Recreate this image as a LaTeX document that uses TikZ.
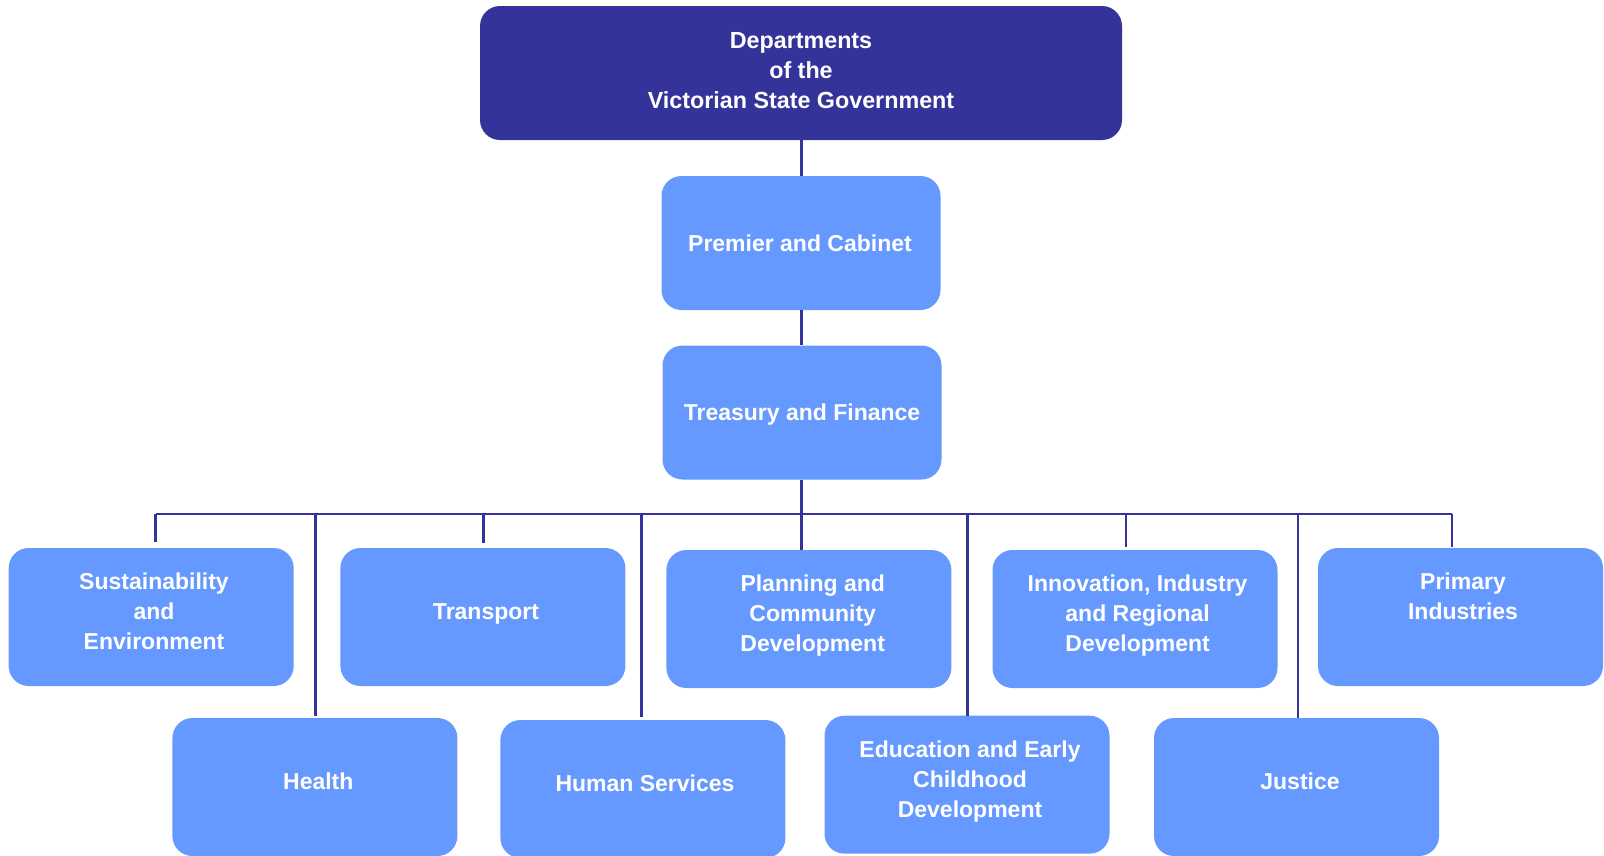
\documentclass[tikz,border=0pt]{standalone}
\usepackage{fontspec}
\setmainfont{Liberation Sans}
\definecolor{deptblue}{HTML}{333399}
\definecolor{unitblue}{HTML}{6699FF}
\begin{document}
\begin{tikzpicture}[x=1pt,y=-1pt,
  box/.style={draw=none, fill=unitblue, rounded corners=20pt, minimum width=285pt, minimum height=138pt, inner sep=0pt},
  topbox/.style={draw=none, fill=deptblue, rounded corners=20pt, minimum width=642pt, minimum height=134pt, inner sep=0pt},
  midbox/.style={box, minimum width=279pt, minimum height=134pt},
  lbl/.style={text=white, font=\fontsize{23}{30}\selectfont\bfseries, align=center, inner sep=0pt},
  link/.style={draw=deptblue, line width=2.5pt}
]
\useasboundingbox (0,0) rectangle (1604,855);

% boxes
\node[topbox] (top) at (801,73) {};
\node[midbox] (pc)  at (801,243) {};
\node[midbox] (tf)  at (802,412.5) {};

\node[box] (sus) at (151.2,617) {};
\node[box] (tra) at (482.9,617) {};
\node[box] (pla) at (808.9,619) {};
\node[box] (inn) at (1135,619) {};
\node[box] (pri) at (1460.5,617) {};

\node[box] (hea) at (314.9,787) {};
\node[box] (hum) at (642.9,789) {};
\node[box] (edu) at (967,784.7) {};
\node[box] (jus) at (1296.5,787) {};

% labels
\node[lbl, font=\fontsize{23.3}{29.6}\selectfont\bfseries] (top-t) at (801,70.6) {Departments\\of the\\Victorian State Government};
\node[lbl] (pc-t)  at (800,243.5) {Premier and Cabinet};
\node[lbl] (tf-t)  at (802,415) {Treasury and Finance};
\node[lbl] (sus-t) at (154,611.7) {Sustainability\\and\\Environment};
\node[lbl] (tra-t) at (486,613.7) {Transport};
\node[lbl] (pla-t) at (812.7,615.7) {Planning and\\Community\\Development};
\node[lbl] (inn-t) at (1137.6,615.7) {Innovation, Industry\\and Regional\\Development};
\node[lbl] (pri-t) at (1463,596.7) {Primary\\Industries};
\node[lbl] (hea-t) at (318.3,781.7) {Health};
\node[lbl] (hum-t) at (645,783.3) {Human Services};
\node[lbl] (edu-t) at (970,781.3) {Education and Early\\Childhood\\Development};
\node[lbl] (jus-t) at (1300,781.7) {Justice};

% bus coordinates
\coordinate (b-sus) at (155.7,514);
\coordinate (b-hea) at (315.7,514);
\coordinate (b-tra) at (483.7,514);
\coordinate (b-hum) at (641.7,514);
\coordinate (b-mid) at (801.7,514);
\coordinate (b-edu) at (967.7,514);
\coordinate (b-inn) at (1126,514);
\coordinate (b-jus) at (1298,514);
\coordinate (b-pri) at (1452,514);

% connectors
\draw[link] (top.south -| b-mid) -- (pc.north -| b-mid);
\draw[link] (pc.south -| b-mid) -- (tf.north -| b-mid);
\draw[link] (tf.south -| b-mid) -- (b-mid);
\draw[link] (b-sus) -- (b-pri);

\draw[link, shorten >=6pt] (b-sus) -- (b-sus |- sus.north);
\draw[link, shorten >=5pt] (b-tra) -- (b-tra |- tra.north);
\draw[link] (b-mid) -- (b-mid |- pla.north);
\draw[link, shorten >=3pt] (b-inn) -- (b-inn |- inn.north);
\draw[link, shorten >=1pt] (b-pri) -- (b-pri |- pri.north);

\draw[link, shorten >=2pt] (b-hea) -- (b-hea |- hea.north);
\draw[link, shorten >=3pt] (b-hum) -- (b-hum |- hum.north);
\draw[link] (b-edu) -- (b-edu |- edu.north);
\draw[link] (b-jus) -- (b-jus |- jus.north);
\end{tikzpicture}
\end{document}
